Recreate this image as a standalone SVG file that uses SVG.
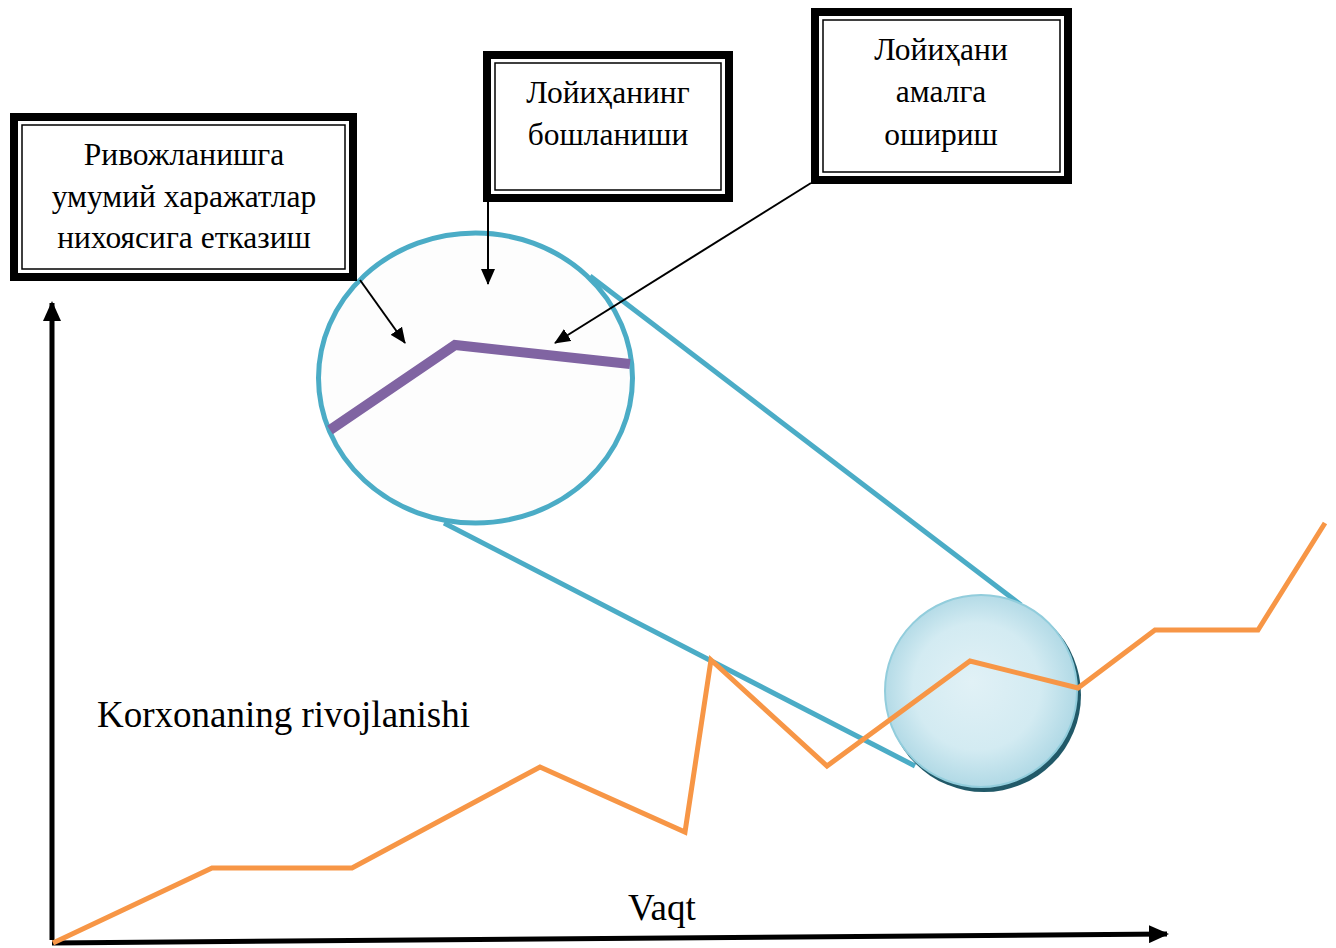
<svg xmlns="http://www.w3.org/2000/svg" width="1336" height="948" viewBox="0 0 1336 948">
<style>
.outer{fill:#fff;stroke:#000;stroke-width:8}
.inner{fill:none;stroke:#000;stroke-width:1.5}
.lbl{font-family:"Liberation Serif","Times New Roman",serif;font-size:31.5px;fill:#000;text-anchor:middle}
.big{font-family:"Liberation Serif","Times New Roman",serif;font-size:37px;fill:#000}
.ptr{stroke:#000;stroke-width:2;fill:none;marker-end:url(#ah)}
.cy{stroke:#4BACC6;stroke-width:5;fill:none}
</style>
<defs>
<marker id="ah" markerWidth="16" markerHeight="14" refX="15" refY="7" orient="auto" markerUnits="userSpaceOnUse" viewBox="0 0 16 14">
<path d="M0,0 L16,7 L0,14 z" fill="#000"/>
</marker>
<marker id="axh" markerWidth="20" markerHeight="18" refX="18" refY="9" orient="auto" markerUnits="userSpaceOnUse" viewBox="0 0 20 18">
<path d="M0,0 L20,9 L0,18 z" fill="#000"/>
</marker>
<radialGradient id="lens" cx="0.5" cy="0.5" r="0.6" fx="0.45" fy="0.45">
<stop offset="0" stop-color="#E1F1F6"/>
<stop offset="0.55" stop-color="#D3EBF2"/>
<stop offset="1" stop-color="#9FD0DF"/>
</radialGradient>
</defs>

<g id="axes">
<line x1="52" y1="940" x2="52" y2="303" stroke="#000" stroke-width="5" marker-end="url(#axh)"/>
<line x1="52" y1="943" x2="1167" y2="934" stroke="#000" stroke-width="5" marker-end="url(#axh)"/>
</g>

<g id="big-circle">
<ellipse cx="475.5" cy="378" rx="157" ry="145" fill="#FDFDFD" stroke="#4BACC6" stroke-width="5"/>
<polyline points="330,430 455,345 630,364" fill="none" stroke="#8064A2" stroke-width="10"/>
</g>

<g id="connectors">
<line class="cy" x1="590" y1="276" x2="1021" y2="605"/>
<line class="cy" x1="444" y1="523" x2="915" y2="766"/>
<line class="ptr" x1="360" y1="280" x2="405" y2="343"/>
<line class="ptr" x1="488" y1="202" x2="488" y2="284"/>
<line class="ptr" x1="811" y1="183" x2="555" y2="343"/>
</g>

<g id="small-circle">
<circle cx="984" cy="695" r="97" fill="#215968"/>
<circle cx="981" cy="691" r="96" fill="url(#lens)" stroke="#92CDDC" stroke-width="2"/>
</g>

<g id="orange-line">
<polyline points="53,943 212,868 352,868 540,767 685,832 711,660 827,766 970,661 1078,688 1155,630 1258,630 1325,523" fill="none" stroke="#F79646" stroke-width="5"/>
</g>

<g id="box1">
<rect class="outer" x="14" y="117" width="339" height="160"/>
<rect class="inner" x="22" y="125" width="323" height="144"/>
<text class="lbl" x="184" y="165">Ривожланишга</text>
<text class="lbl" x="184" y="207">умумий харажатлар</text>
<text class="lbl" x="184" y="248">нихоясига етказиш</text>
</g>

<g id="box2">
<rect class="outer" x="487" y="55" width="242" height="143"/>
<rect class="inner" x="495" y="63" width="226" height="127"/>
<text class="lbl" x="608" y="103">Лойиҳанинг</text>
<text class="lbl" x="608" y="145">бошланиши</text>
</g>

<g id="box3">
<rect class="outer" x="815" y="12" width="253" height="168"/>
<rect class="inner" x="823" y="20" width="237" height="152"/>
<text class="lbl" x="941" y="60">Лойиҳани</text>
<text class="lbl" x="941" y="102">амалга</text>
<text class="lbl" x="941" y="145">ошириш</text>
</g>

<g id="labels">
<text class="big" x="97" y="727">Korxonaning rivojlanishi</text>
<text class="big" x="628" y="920">Vaqt</text>
</g>
</svg>
